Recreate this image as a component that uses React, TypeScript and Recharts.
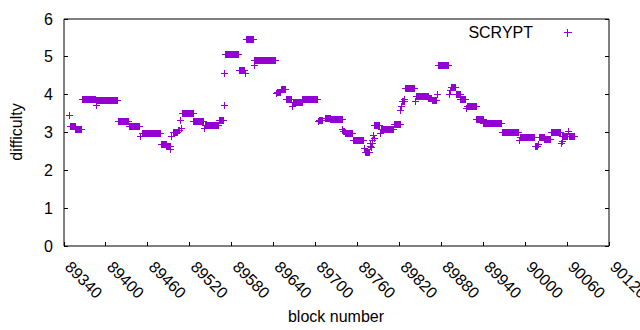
import { ScatterChart, Scatter, XAxis, YAxis, Label } from "recharts";

const PURPLE = "#9400d3";
const FONT = "'Liberation Sans', Arial, sans-serif";

const xTicks = [89340, 89400, 89460, 89520, 89580, 89640, 89700, 89760, 89820, 89880, 89940, 90000, 90060, 90120];
const yTicks = [0, 1, 2, 3, 4, 5, 6];

// difficulty stays flat across a run of blocks
const runStart = [
  89348, 89349, 89357, 89366, 89386, 89387, 89418, 89434, 89450, 89452, 89479, 89487, 89493, 89494, 89496, 89504,
  89507, 89508, 89509, 89526, 89541, 89542, 89562, 89569, 89570, 89571, 89591, 89600, 89601, 89612, 89613, 89644,
  89645, 89651, 89658, 89667, 89668, 89682, 89704, 89705, 89714, 89722, 89739, 89740, 89743, 89754, 89770, 89771,
  89778, 89779, 89780, 89781, 89782, 89783, 89784, 89785, 89793, 89794, 89813, 89822, 89823, 89824, 89828, 89829,
  89843, 89844, 89862, 89867, 89874, 89876, 89892, 89893, 89894, 89902, 89908, 89916, 89917, 89931, 89941, 89967,
  89992, 89993, 90015, 90019, 90020, 90028, 90037, 90052, 90053, 90054, 90062, 90063,
];
const runEnd = [
  89348, 89356, 89365, 89385, 89386, 89417, 89433, 89448, 89450, 89478, 89486, 89492, 89493, 89494, 89503, 89506,
  89507, 89508, 89525, 89540, 89541, 89561, 89568, 89569, 89570, 89590, 89599, 89600, 89611, 89612, 89643, 89644,
  89650, 89657, 89666, 89667, 89681, 89703, 89704, 89710, 89721, 89738, 89739, 89742, 89753, 89769, 89770, 89777,
  89778, 89779, 89780, 89781, 89782, 89783, 89784, 89792, 89793, 89812, 89821, 89822, 89823, 89827, 89828, 89842,
  89843, 89861, 89866, 89873, 89874, 89891, 89892, 89893, 89901, 89907, 89915, 89916, 89930, 89940, 89966, 89991,
  89992, 90014, 90018, 90019, 90027, 90036, 90051, 90052, 90053, 90061, 90062, 90070,
];
const runDifficulty = [
  3.45, 3.15, 3.07, 3.88, 3.72, 3.85, 3.3, 3.16, 2.89, 2.98, 2.69, 2.63, 2.56, 2.89, 3.0, 3.05,
  3.33, 3.11, 3.51, 3.3, 3.1, 3.19, 3.32, 3.72, 4.56, 5.07, 4.64, 4.56, 5.46, 4.78, 4.91, 4.04,
  4.05, 4.14, 3.88, 3.7, 3.8, 3.88, 3.28, 3.31, 3.38, 3.35, 3.07, 3.03, 2.98, 2.78, 2.58, 2.48,
  2.64, 2.72, 2.6, 2.8, 2.7, 2.91, 2.85, 3.18, 2.98, 3.08, 3.22, 3.59, 3.7, 3.81, 3.86, 4.17,
  3.83, 3.96, 3.91, 3.84, 4.01, 4.76, 4.01, 4.1, 4.18, 4.01, 3.87, 3.64, 3.69, 3.35, 3.25, 2.99,
  2.8, 2.88, 2.62, 2.68, 2.88, 2.81, 3.01, 2.7, 2.77, 2.89, 3.02, 2.89,
];

const points: { block: number; difficulty: number }[] = [];
runStart.forEach((first, i) => {
  for (let b = first; b <= runEnd[i]; b++) points.push({ block: b, difficulty: runDifficulty[i] });
});

function Plus({ cx, cy }: any) {
  return (
    <path
      d={`M${cx - 3.5},${cy}H${cx + 3.5}M${cx},${cy - 3.5}V${cy + 3.5}`}
      stroke={PURPLE}
      strokeWidth={1}
      fill="none"
      shapeRendering="crispEdges"
    />
  );
}

const TICK = 4;

function BottomTick({ x, y, payload }: any) {
  return (
    <g>
      <line x1={x} y1={y} x2={x} y2={y - TICK} stroke="#000" shapeRendering="crispEdges" />
      <text x={x} y={y + 22} transform={`rotate(45 ${x} ${y + 22})`} fontSize={16} fill="#000" fontFamily={FONT}>
        {payload.value}
      </text>
    </g>
  );
}

function TopTick({ x, y }: any) {
  return <line x1={x} y1={y} x2={x} y2={y + TICK} stroke="#000" shapeRendering="crispEdges" />;
}

function LeftTick({ x, y, payload }: any) {
  return (
    <g>
      <line x1={x} y1={y} x2={x + TICK} y2={y} stroke="#000" shapeRendering="crispEdges" />
      <text x={x - 11} y={y} dy="0.35em" textAnchor="end" fontSize={16} fill="#000" fontFamily={FONT}>
        {payload.value}
      </text>
    </g>
  );
}

function RightTick({ x, y }: any) {
  return <line x1={x} y1={y} x2={x - TICK} y2={y} stroke="#000" shapeRendering="crispEdges" />;
}

export default function App() {
  return (
    <div style={{ position: "absolute", left: 0, top: 0, width: 640, height: 330, background: "#fff", fontFamily: FONT }}>
      <ScatterChart width={640} height={330} margin={{ top: 0, right: 0, bottom: 0, left: 0 }}>
        <XAxis
          type="number"
          dataKey="block"
          domain={[89340, 90120]}
          ticks={xTicks}
          interval={0}
          allowDataOverflow
          height={84}
          tickLine={false}
          tickSize={0}
          tickMargin={0}
          axisLine={{ stroke: "#000" }}
          tick={<BottomTick />}
        >
          <Label
            content={() => (
              <text x={336} y={322} textAnchor="middle" fontSize={16} fill="#000" fontFamily={FONT}>
                block number
              </text>
            )}
          />
        </XAxis>
        <XAxis
          xAxisId="top"
          orientation="top"
          type="number"
          domain={[89340, 90120]}
          ticks={xTicks}
          interval={0}
          allowDataOverflow
          height={19}
          tickLine={false}
          tickSize={0}
          tickMargin={0}
          axisLine={{ stroke: "#000" }}
          tick={<TopTick />}
        />
        <YAxis
          type="number"
          dataKey="difficulty"
          domain={[0, 6]}
          ticks={yTicks}
          interval={0}
          allowDataOverflow
          width={64}
          tickLine={false}
          tickSize={0}
          tickMargin={0}
          axisLine={{ stroke: "#000" }}
          tick={<LeftTick />}
        >
          <Label
            content={() => (
              <text x={22} y={132} transform="rotate(-90 22 132)" textAnchor="middle" fontSize={16} fill="#000" fontFamily={FONT}>
                difficulty
              </text>
            )}
          />
        </YAxis>
        <YAxis
          yAxisId="right"
          orientation="right"
          type="number"
          domain={[0, 6]}
          ticks={yTicks}
          interval={0}
          allowDataOverflow
          width={31}
          tickLine={false}
          tickSize={0}
          tickMargin={0}
          axisLine={{ stroke: "#000" }}
          tick={<RightTick />}
        />
        <Scatter data={points} dataKey="difficulty" shape={Plus} isAnimationActive={false} />
      </ScatterChart>
      <svg width={640} height={330} style={{ position: "absolute", left: 0, top: 0, pointerEvents: "none" }}>
        <text x={533} y={32} dy="0.35em" textAnchor="end" fontSize={16} fill="#000" fontFamily={FONT}>
          SCRYPT
        </text>
        <path d="M563.5,32.5H571.5M567.5,28.5V36.5" stroke={PURPLE} strokeWidth={1} fill="none" shapeRendering="crispEdges" />
      </svg>
    </div>
  );
}
